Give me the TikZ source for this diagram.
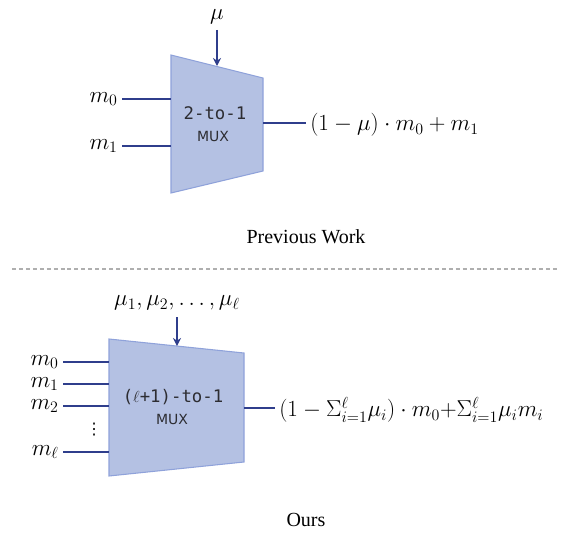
\documentclass[tikz,border=0pt]{standalone}
\usepackage{fontspec}
\usepackage{amsmath,amssymb}
\usepackage{tikz}
\usetikzlibrary{arrows.meta,positioning,calc}
\setmainfont{Liberation Serif}
\newfontfamily\muxmono{DejaVu Sans Mono}
\newfontfamily\muxsans{DejaVu Sans}
\definecolor{muxfill}{RGB}{180, 193, 227}
\definecolor{muxedge}{RGB}{143, 162, 218}
\definecolor{wirenavy}{RGB}{47, 62, 140}
\definecolor{muxtext}{RGB}{45, 45, 50}
\definecolor{sepgray}{RGB}{175, 175, 175}

\begin{document}
\begin{tikzpicture}[
      x=0.75pt, y=-0.75pt,
      muxbody/.style={fill=muxfill, draw=muxedge, line width=0.8pt},
      wire/.style={draw=wirenavy, line width=1.5pt},
      selwire/.style={wire, -{Stealth[length=6pt,width=6pt]}},
      sig/.style={font=\fontsize{18}{21}\selectfont, inner sep=3pt},
      muxname/.style={text=muxtext, inner sep=0pt,
        font=\muxmono\fontsize{13}{16}\selectfont},
      muxtag/.style={text=muxtext, inner sep=0pt,
        font=\muxsans\fontsize{10.5}{13}\selectfont},
      caption/.style={font=\fontsize{15}{18}\selectfont, inner sep=0pt},
  ]
  \useasboundingbox (0,0) rectangle (561,536);

  % 1. Previous Work: 2-to-1 mux
  \draw[muxbody] (171,55) -- (263,78) -- (263,171) -- (171,193) -- cycle;
  \node[muxname] (muxa) at (215,113) {2-to-1};
  \node[muxtag] (muxa tag) at (213,136) {MUX};
  \coordinate (muxa sel) at (217,66);
  \coordinate (muxa in0) at (171,99);
  \coordinate (muxa in1) at (171,146);
  \coordinate (muxa out) at (263,123);

  \node[sig] (mua) at (217,17) {$\mu$};
  \node[sig, anchor=east] (ma0) at (122,99) {$m_0$};
  \node[sig, anchor=east] (ma1) at (122,146) {$m_1$};
  \node[sig, anchor=west] (ya) at (306,125) {$(1-\mu)\cdot m_0+m_1$};

  \draw[selwire, shorten <=1pt] (mua) -- (muxa sel);
  \draw[wire] (ma0.east) -- (muxa in0);
  \draw[wire] (ma1.east) -- (muxa in1);
  \draw[wire] (muxa out) -- (muxa out -| ya.west);

  \node[caption] (capa) at (306,237) {Previous Work};

  % separator
  \draw[sepgray, line width=0.8pt, dash pattern=on 3pt off 2.2pt] (12,269) -- (558,269);

  % 2. Ours: (l+1)-to-1 mux
  \draw[muxbody] (109,339) -- (244,353) -- (244,462) -- (109,476) -- cycle;
  \node[muxname] (muxb) at (173,397) {($\ell$+1)-to-1};
  \node[muxtag] (muxb tag) at (172,419) {MUX};
  \coordinate (muxb sel) at (177,346);
  \coordinate (muxb in0) at (109,362);
  \coordinate (muxb in1) at (109,384);
  \coordinate (muxb in2) at (109,406);
  \coordinate (muxb inl) at (109,452);
  \coordinate (muxb out) at (244,408);

  \node[sig] (mub) at (177,303) {$\mu_1,\mu_2,\ldots,\mu_\ell$};
  \node[sig, anchor=east] (mb0) at (63,362) {$m_0$};
  \node[sig, anchor=east] (mb1) at (63,384) {$m_1$};
  \node[sig, anchor=east] (mb2) at (63,406) {$m_2$};
  \node[inner sep=0pt, font=\muxsans\fontsize{12}{14}\selectfont] (mbdots) at (94,430) {⋮};
  \node[sig, anchor=east] (mbl) at (63,452) {$m_\ell$};
  \node[sig, anchor=west] (yb) at (275,410)
      {$(1-\Sigma_{i=1}^{\ell}\mu_i)\cdot m_0{+}\Sigma_{i=1}^{\ell}\mu_i m_i$};

  \draw[selwire, shorten <=2pt] (mub) -- (muxb sel);
  \draw[wire] (mb0.east) -- (muxb in0);
  \draw[wire] (mb1.east) -- (muxb in1);
  \draw[wire] (mb2.east) -- (muxb in2);
  \draw[wire] (mbl.east) -- (muxb inl);
  \draw[wire] (muxb out) -- (muxb out -| yb.west);

  \node[caption] (capb) at (306,520) {Ours};
\end{tikzpicture}
\end{document}
